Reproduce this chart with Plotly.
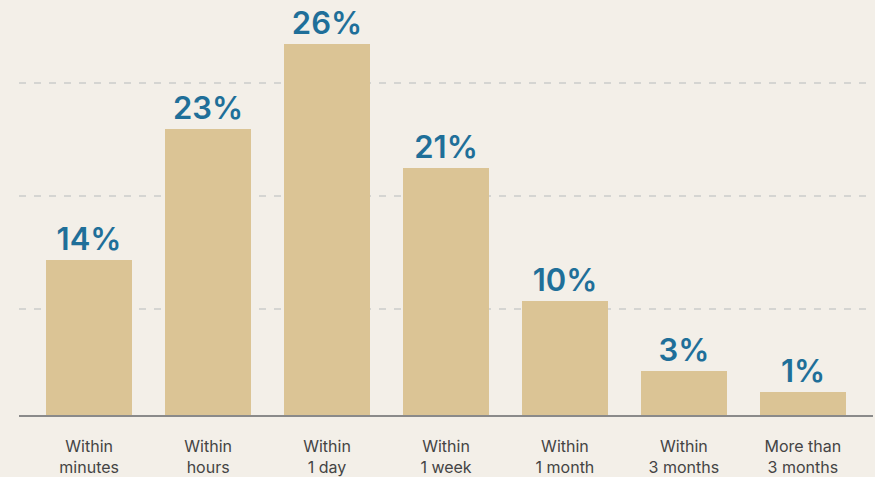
import plotly.graph_objects as go

categories = ["Within<br>minutes", "Within<br>hours", "Within<br>1 day", "Within<br>1 week",
              "Within<br>1 month", "Within<br>3 months", "More than<br>3 months"]
# bar heights as drawn
values = [13.7, 25.3, 32.8, 21.9, 10.1, 3.9, 2.0]
labels = ["14%", "23%", "26%", "21%", "10%", "3%", "1%"]

BG = "#f3efe8"
fig = go.Figure(go.Bar(
    x=list(range(len(categories))), y=values, text=labels,
    textposition="outside", cliponaxis=False,
    marker=dict(color="#dbc495", line=dict(width=0)),
    width=0.723,
    textfont=dict(family="Inter", size=31, color="#1f6f99", weight=600),
    hoverinfo="skip",
))
fig.update_layout(
    width=875, height=477, paper_bgcolor=BG, plot_bgcolor=BG,
    margin=dict(l=19, r=2, t=0, b=62, autoexpand=False), showlegend=False, bargap=0,
)
fig.update_xaxes(
    tickmode="array", tickvals=list(range(len(categories))), ticktext=categories,
    range=[-0.59, 6.59], showgrid=False, zeroline=False, automargin=False,
    showline=True, linecolor="#8a8a8a", linewidth=2,
    ticks="", ticklabelstandoff=16,
    tickfont=dict(family="Inter", size=16, color="#444444"),
)
fig.update_yaxes(
    range=[0, 415 / 11.3], tickmode="linear", tick0=106 / 11.3, dtick=10,
    showticklabels=False, zeroline=False, showline=False, automargin=False,
    showgrid=True, gridcolor="#d5d5d2", gridwidth=1.5, griddash="7px,8px",
)
fig.write_html("out.html")
